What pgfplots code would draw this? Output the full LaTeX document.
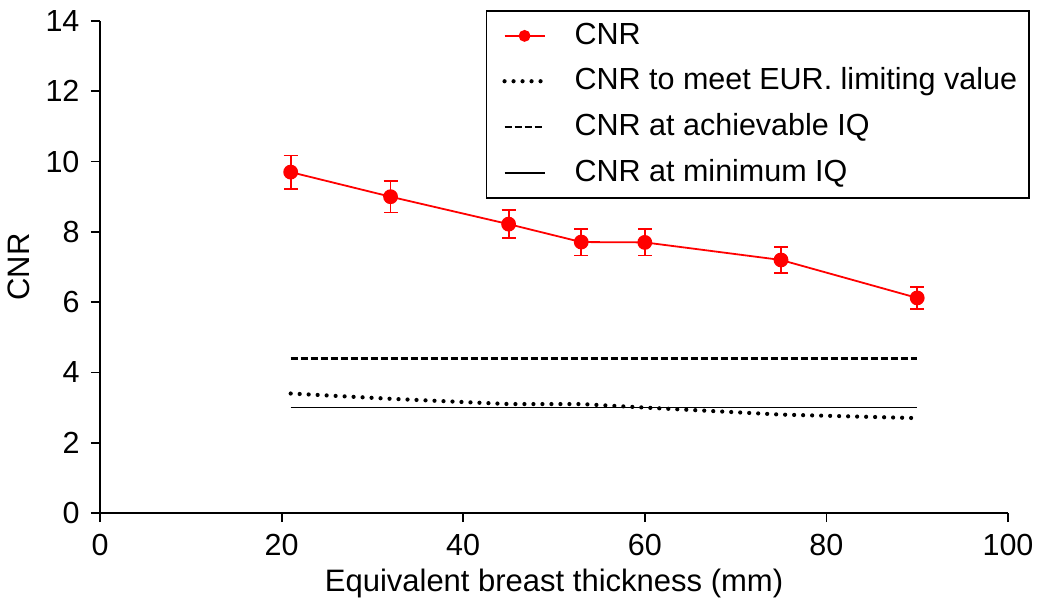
\documentclass[border=0pt]{standalone}
\usepackage{pgfplots}
\pgfplotsset{compat=1.18}
\usepackage{fontspec}
\setmainfont{Liberation Sans}
\begin{document}
\fontsize{31}{37}\selectfont
\begin{tikzpicture}
\useasboundingbox (-100pt,-92pt) rectangle (938pt,513pt);
\begin{axis}[
  at={(0,0)}, anchor=origin,
  scale only axis, width=908pt, height=492pt,
  xmin=0, xmax=100, ymin=0, ymax=14,
  axis x line=bottom, axis y line=left,
  axis line style={-, line width=1.8pt},
  xtick={0,20,...,100}, ytick={0,2,...,14},
  tick style={line width=1.8pt, black},
  major tick length=9pt,
  tick align=outside,
  /pgf/number format/assume math mode=true,
  ticklabel style={font=\fontsize{30.5}{36}\selectfont},
  xticklabel style={yshift=-2pt},
  yticklabel style={xshift=-1pt},
  label style={font=\fontsize{31}{37}\selectfont},
  xlabel={Equivalent breast thickness (mm)},
  ylabel={CNR},
  xlabel style={yshift=8pt},
  ylabel style={yshift=-5pt},
  legend style={at={(1.024,1.022)}, anchor=north east, draw=black, line width=1.5pt,
    font=\fontsize{30.5}{36}\selectfont, inner xsep=8pt, inner ysep=10pt,
    row sep=15pt, cells={anchor=west},
    nodes={inner xsep=4pt}},
  legend cell align=left,
  legend image code/.code={\draw[mark repeat=2,mark phase=2,#1,mark size=5pt] plot coordinates {(0pt,0pt) (20pt,0pt) (40pt,0pt)}; \path (-8pt,0pt) (64pt,0pt);},
]
\addplot[red, line width=1.8pt, mark=*, mark size=6.5pt, mark options={solid,fill=red,draw=red},
  error bars/.cd, y dir=both, y explicit,
  error bar style={line width=1.8pt, red},
  error mark options={rotate=90, mark size=7pt, line width=1.8pt, red}]
  coordinates {
  (21,9.70) +- (0,0.47)
  (32,9.00) +- (0,0.45)
  (45,8.22) +- (0,0.40)
  (53,7.71) +- (0,0.38)
  (60,7.70) +- (0,0.37)
  (75,7.20) +- (0,0.37)
  (90,6.12) +- (0,0.32)
  };
\addlegendentry{CNR}
\addplot[black, line width=4.2pt, line cap=round, dash pattern=on 0pt off 9pt]
  coordinates {(21,3.40) (32,3.25) (45,3.10) (53,3.10) (60,3.00) (75,2.80) (90,2.70)};
\addlegendentry{CNR to meet EUR. limiting value}
\addplot[black, line width=2.4pt, dash pattern=on 7pt off 3pt]
  coordinates {(21,4.40) (90,4.40)};
\addlegendentry{CNR at achievable IQ}
\addplot[black, line width=1.8pt]
  coordinates {(21,3.00) (90,3.00)};
\addlegendentry{CNR at minimum IQ}
\end{axis}
\end{tikzpicture}
\end{document}
